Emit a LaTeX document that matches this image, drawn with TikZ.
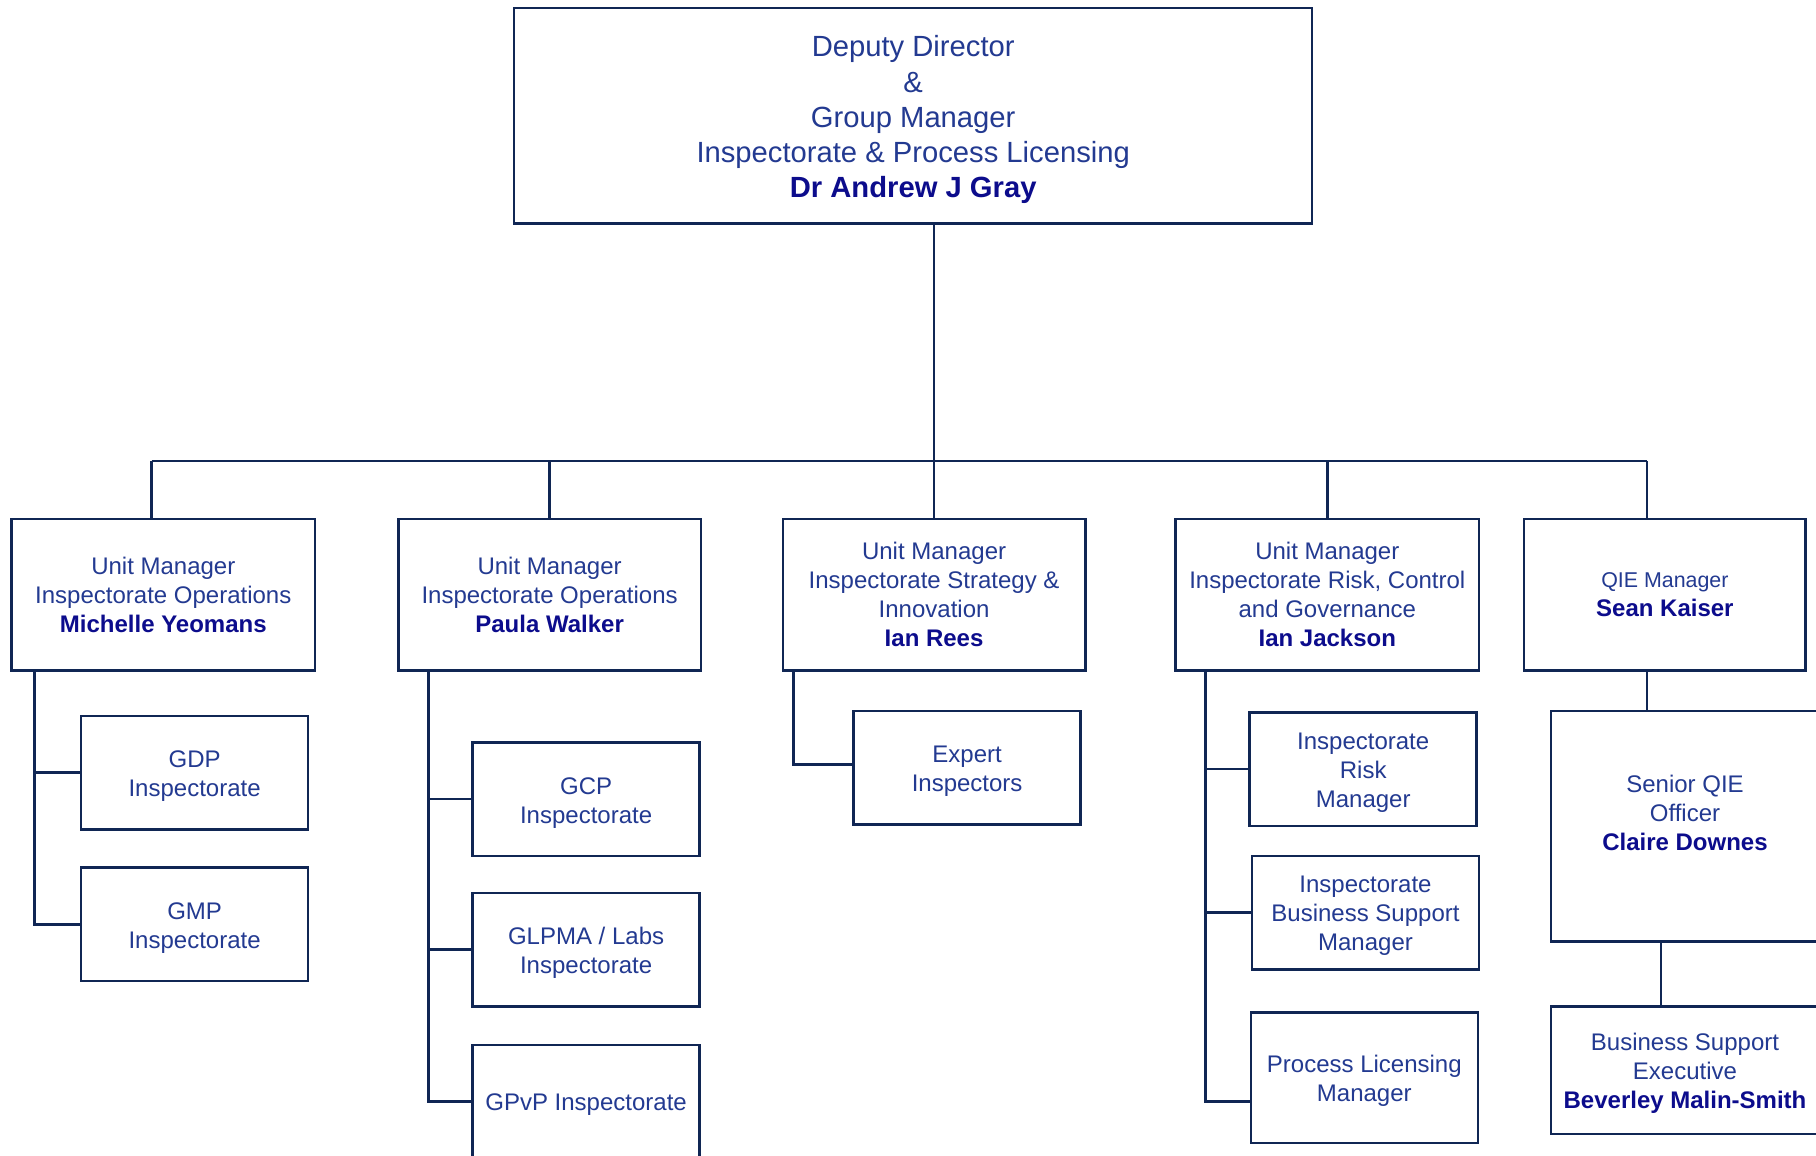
\documentclass[tikz,border=0pt]{standalone}
\usepackage{fontspec}
\setmainfont{Liberation Sans}
\usetikzlibrary{calc}
\definecolor{ln}{RGB}{16,38,84}
\definecolor{tx}{RGB}{35,58,145}
\definecolor{nm}{RGB}{12,12,140}
\newcommand{\nmB}[1]{{\bfseries\color{nm}#1}}
\tikzset{
  box/.style={draw=ln, line width=1.25pt, fill=white, align=center, text=tx, inner sep=0pt,
    font=\fontsize{12}{14.5}\selectfont},
  lbl/.style={align=center, text=tx, inner sep=0pt, font=\fontsize{12}{14.5}\selectfont, yshift=-1.75pt},
  tbox/.style={box, label={[lbl]center:{#1}}},
  sz/.style 2 args={minimum width=#1*0.5pt, minimum height=#2*0.5pt},
  conn/.style={draw=ln, line width=1.25pt},
}
\begin{document}
\begin{tikzpicture}[x=0.5pt, y=-0.5pt]
\useasboundingbox (0,0) rectangle (1816,1156);
\clip (0,0) rectangle (1816,1156);
\fill[white] (0,0) rectangle (1816,1156);

% top
\node[box, sz={798}{215.4},
  label={[lbl, font=\fontsize{14.6}{17.6}\selectfont, yshift=-0.25pt]center:{Deputy Director\\ \&\\ Group Manager\\ Inspectorate \& Process Licensing\\ \nmB{Dr Andrew J Gray}}}]
  (top) at (913.2,115.8) {};

% level 2
\node[box, sz={303.4}{151.7}] (b1) at (163.3,594.7) {Unit Manager\\Inspectorate Operations\\\nmB{Michelle Yeomans}};
\node[box, sz={302.3}{151.7}] (b2) at (549.6,594.7) {Unit Manager\\Inspectorate Operations\\\nmB{Paula Walker}};
\node[box, sz={302.3}{151.7}] (b3) at (934.1,594.7) {Unit Manager\\Inspectorate Strategy \&\\Innovation\\\nmB{Ian Rees}};
\node[box, sz={303.4}{151.7}] (b4) at (1327.3,594.7) {Unit Manager\\Inspectorate Risk, Control\\and Governance\\\nmB{Ian Jackson}};
\node[box, sz={281.4}{151.7}] (b5) at (1664.9,594.7) {{\fontsize{10.7}{13}\selectfont QIE Manager}\\\nmB{Sean Kaiser}};

% column 1
\node[tbox={GDP\\Inspectorate}, sz={227}{113.5}] (gdp) at (194.6,772.5) {};
\node[tbox={GMP\\Inspectorate}, sz={227}{113.5}] (gmp) at (194.6,924.3) {};

% column 2
\node[tbox={GCP\\Inspectorate}, sz={227}{113.5}] (gcp) at (586.1,799.2) {};
\node[tbox={GLPMA / Labs\\Inspectorate}, sz={227}{113.5}] (glp) at (586.1,949.7) {};
\node[tbox={GPvP Inspectorate}, sz={227}{113.5}] (gpvp) at (586.1,1101.5) {};

% column 3
\node[tbox={Expert\\Inspectors}, sz={227}{113.5}] (exp) at (967.1,767.9) {};

% column 4
\node[tbox={Inspectorate\\Risk\\Manager}, sz={227}{113.5}] (risk) at (1363.2,769.0) {};
\node[tbox={Inspectorate\\Business Support\\Manager}, sz={227}{113.5}] (bsm) at (1365.5,912.7) {};
\node[tbox={Process Licensing\\Manager}, sz={227}{130.9}] (plm) at (1364.3,1077.7) {};

% column 5
\node[box, sz={268.4}{230.5},
  label={[lbl, yshift=8.45pt]center:{Senior QIE\\Officer\\\nmB{Claire Downes}}}]
  (sqo) at (1685,826.4) {};
\node[tbox={Business Support\\Executive\\\nmB{Beverley Malin-Smith}}, sz={268.4}{127.4}] (bse) at (1685,1070.2) {};

% connectors level 1-2
\coordinate (bus1) at (151.7,461);
\coordinate (bus5) at (1647,461);
\draw[conn] (top.south -| b3.north) -- (b3.north);
\draw[conn] (bus1) -- (bus5);
\draw[conn] (bus1) -- (bus1 |- b1.north);
\draw[conn] (b2.north |- bus1) -- (b2.north);
\draw[conn] (b4.north |- bus1) -- (b4.north);
\draw[conn] (bus5) -- (bus5 |- b5.north);

% column 1 connectors
\path (b1.south west) ++(24.3,0) coordinate (c1);
\draw[conn] (c1) |- (gmp.west);
\draw[conn] (c1 |- gdp.west) -- (gdp.west);

% column 2 connectors
\path (b2.south west) ++(31.3,0) coordinate (c2);
\draw[conn] (c2) |- (gpvp.west);
\draw[conn] (c2 |- gcp.west) -- (gcp.west);
\draw[conn] (c2 |- glp.west) -- (glp.west);

% column 3 connector
\path (b3.south west) ++(11.6,0) coordinate (c3);
\draw[conn] (c3) |- ([yshift=1.75pt]exp.west);

% column 4 connectors
\path (b4.south west) ++(31.2,0) coordinate (c4);
\draw[conn] (c4) |- ([yshift=-11.9pt]plm.west);
\draw[conn] (c4 |- risk.west) -- (risk.west);
\draw[conn] (c4 |- bsm.west) -- (bsm.west);

% column 5 connectors
\draw[conn] (bus5 |- b5.south) -- (bus5 |- sqo.north);
\path (sqo.south west) ++(111.2,0) coordinate (c5);
\draw[conn] (c5) -- (c5 |- bse.north);
\end{tikzpicture}
\end{document}
